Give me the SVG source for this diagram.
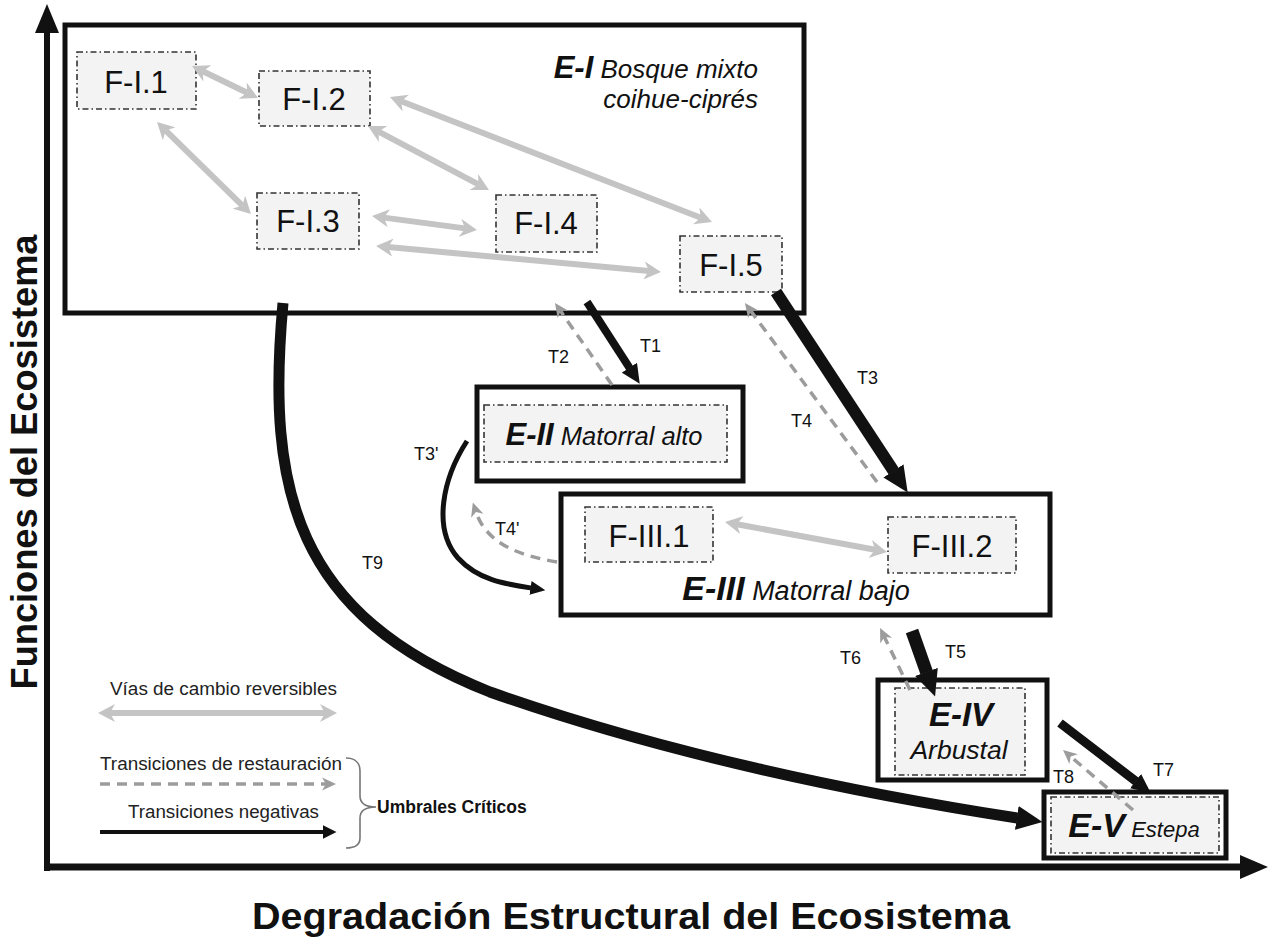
<svg xmlns="http://www.w3.org/2000/svg" width="1272" height="941" viewBox="0 0 1272 941">
<style>
text{font-family:"Liberation Sans",Arial,sans-serif;fill:#111}
.ebox{fill:#fff;stroke:#111;stroke-width:5}
.fbox{fill:#f3f3f3;stroke:#333;stroke-width:1.6;stroke-dasharray:6 3 1.5 3}
.ftxt{font-size:31px;text-anchor:middle}
.eb{font-weight:bold;font-style:italic}
.ei{font-style:italic}
.rev{stroke:#c4c4c4;stroke-width:6;fill:none;marker-start:url(#hg);marker-end:url(#hg)}
.rest{stroke:#9c9c9c;stroke-width:3.5;stroke-dasharray:10 7;fill:none;marker-end:url(#dg)}
.neg{stroke:#111;fill:none}
.lbl{font-size:18px}
.leg{font-size:17.5px;fill:#222}
</style>
<defs>
<marker id="hg" viewBox="0 0 17 18" markerWidth="17" markerHeight="18" refX="5" refY="9" orient="auto-start-reverse" markerUnits="userSpaceOnUse"><path d="M0,0 L17,9 L0,18 L5,9 z" fill="#c4c4c4"/></marker>
<marker id="dg" viewBox="0 0 14 14" markerWidth="14" markerHeight="14" refX="4" refY="7" orient="auto" markerUnits="userSpaceOnUse"><path d="M0,0.5 L14,7 L0,13.5 L4,7 z" fill="#9c9c9c"/></marker>
<marker id="bL" viewBox="0 0 26 24" markerWidth="26" markerHeight="24" refX="0.5" refY="12" orient="auto" markerUnits="userSpaceOnUse"><path d="M0,0 L26,12 L0,24 z" fill="#111"/></marker>
<marker id="bM" viewBox="0 0 19 18" markerWidth="19" markerHeight="18" refX="0.5" refY="9" orient="auto" markerUnits="userSpaceOnUse"><path d="M0,0 L19,9 L0,18 z" fill="#111"/></marker>
<marker id="bS" viewBox="0 0 15 14" markerWidth="15" markerHeight="14" refX="0.5" refY="7" orient="auto" markerUnits="userSpaceOnUse"><path d="M0,0 L15,7 L0,14 z" fill="#111"/></marker>
<marker id="bLeg" viewBox="0 0 14 14" markerWidth="14" markerHeight="14" refX="0.5" refY="7" orient="auto" markerUnits="userSpaceOnUse"><path d="M0,0 L14,7 L0,14 z" fill="#111"/></marker>
</defs>
<rect width="1272" height="941" fill="#fff"/>

<g id="axes">
<line x1="47" y1="871" x2="47" y2="30" stroke="#111" stroke-width="6"/>
<polygon points="35,33 59,33 47,4" fill="#111"/>
<line x1="44" y1="867" x2="1242" y2="867" stroke="#111" stroke-width="7"/>
<polygon points="1240,855 1240,879 1268,867" fill="#111"/>
<text transform="translate(37,462) rotate(-90)" text-anchor="middle" font-size="36" font-weight="bold" textLength="455" lengthAdjust="spacingAndGlyphs">Funciones del Ecosistema</text>
<text x="252" y="929" font-size="36" font-weight="bold" textLength="758" lengthAdjust="spacingAndGlyphs">Degradación Estructural del Ecosistema</text>
</g>

<g id="E-I">
<rect class="ebox" x="65" y="25" width="739" height="288"/>
<text x="758" y="78" font-size="26" text-anchor="end"><tspan class="eb" font-size="31">E-I</tspan><tspan class="ei"> Bosque mixto</tspan></text>
<text x="758" y="108" font-size="26" text-anchor="end" class="ei">coihue-ciprés</text>
</g>
<g id="F-I.1"><rect class="fbox" x="77" y="52" width="119" height="57"/><text class="ftxt" x="136" y="93">F-I.1</text></g>
<g id="F-I.2"><rect class="fbox" x="259" y="71" width="111" height="55"/><text class="ftxt" x="314" y="110">F-I.2</text></g>
<g id="F-I.3"><rect class="fbox" x="257" y="193" width="102" height="56"/><text class="ftxt" x="308" y="232">F-I.3</text></g>
<g id="F-I.4"><rect class="fbox" x="496" y="195" width="101" height="57"/><text class="ftxt" x="546" y="234">F-I.4</text></g>
<g id="F-I.5"><rect class="fbox" x="680" y="236" width="102" height="56"/><text class="ftxt" x="731" y="276">F-I.5</text></g>

<g id="E-II">
<rect class="ebox" x="477" y="387" width="266" height="94"/>
<rect class="fbox" x="484" y="405" width="243" height="57"/>
<text x="604" y="445" font-size="25.5" text-anchor="middle"><tspan class="eb" font-size="31">E-II</tspan><tspan class="ei"> Matorral alto</tspan></text>
</g>

<g id="E-III">
<rect class="ebox" x="561" y="494" width="489" height="121"/>
<text x="796" y="600" font-size="27" text-anchor="middle"><tspan class="eb" font-size="34">E-III</tspan><tspan class="ei"> Matorral bajo</tspan></text>
</g>
<g id="F-III.1"><rect class="fbox" x="585" y="507" width="128" height="55"/><text class="ftxt" x="649" y="547">F-III.1</text></g>
<g id="F-III.2"><rect class="fbox" x="888" y="517" width="128" height="56"/><text class="ftxt" x="952" y="557">F-III.2</text></g>

<g id="E-IV">
<rect class="ebox" x="878" y="680" width="169" height="100"/>
<rect class="fbox" x="895" y="688" width="130" height="87"/>
<text x="961" y="726" font-size="33" text-anchor="middle" class="eb">E-IV</text>
<text x="959" y="759" font-size="26.5" text-anchor="middle" class="ei">Arbustal</text>
</g>

<g id="E-V">
<rect class="ebox" x="1044" y="792" width="182" height="66"/>
<rect class="fbox" x="1051" y="797" width="168" height="56"/>
<text x="1134" y="837" font-size="22" text-anchor="middle"><tspan class="eb" font-size="34">E-V</tspan><tspan class="ei"> Estepa</tspan></text>
</g>

<g id="connectors">
<path class="rev" d="M202.8,71.2 L247.2,92.8"/>
<path class="rev" d="M165.6,130.4 L242.4,205.6"/>
<path class="rev" d="M401.2,101.3 L700.8,217.7"/>
<path class="rev" d="M378.6,131.6 L478.4,184.4"/>
<path class="rev" d="M383.9,217.6 L465.1,228.4"/>
<path class="rev" d="M388,247.1 L649,270.9"/>
<path class="rev" d="M736.8,524.2 L875.2,549.8"/>

<path class="rest" d="M612,385 L560.7,311.2"/>
<path class="rest" d="M877,482 L750.9,311.1"/>
<path class="rest" d="M557,562 C522,556 487,545 476,512"/>
<path class="rest" d="M910,690 L884.4,637"/>
<path class="rest" d="M1133,810 L1070.6,756.5"/>

<path class="neg" stroke-width="8" marker-end="url(#bM)" d="M587,302 L629.7,368.1"/>
<path class="neg" stroke-width="12" marker-end="url(#bL)" d="M776,292 L893.7,471.3"/>
<path class="neg" stroke-width="5" marker-end="url(#bS)" d="M467,441 C443,478 432,528 458,558 C478,580 505,584 531,588"/>
<path class="neg" stroke-width="13" marker-end="url(#bL)" d="M912,631 L926.6,672.4"/>
<path class="neg" stroke-width="9" marker-end="url(#bM)" d="M1060,723 L1136,781.4"/>
<path class="neg" stroke-width="11" marker-end="url(#bL)" d="M283,303 C266,490 295,615 490,692 C660,752 850,792 1017.3,818"/>
</g>

<g id="labels" class="lbl">
<text x="640" y="352">T1</text>
<text x="548" y="363">T2</text>
<text x="857" y="384">T3</text>
<text x="791" y="427">T4</text>
<text x="414" y="460">T3'</text>
<text x="495" y="535">T4'</text>
<text x="362" y="569">T9</text>
<text x="945" y="658">T5</text>
<text x="840" y="664">T6</text>
<text x="1153" y="776">T7</text>
<text x="1053" y="783">T8</text>
</g>

<g id="legend">
<text class="leg" x="110" y="695" textLength="227" lengthAdjust="spacingAndGlyphs">Vías de cambio reversibles</text>
<path class="rev" d="M110,713 L325,713"/>
<text class="leg" x="100" y="770" textLength="242" lengthAdjust="spacingAndGlyphs">Transiciones de restauración</text>
<path class="rest" d="M100,784 L326,784"/>
<text class="leg" x="128" y="818" textLength="191" lengthAdjust="spacingAndGlyphs">Transiciones negativas</text>
<path class="neg" stroke-width="4" marker-end="url(#bLeg)" d="M100,832 L323,832"/>
<path d="M346,758 C355,758 360,763 360,771 L360,796 C360,803 364,807 376,807 C364,807 360,811 360,818 L360,838 C360,845 355,848 346,848" fill="none" stroke="#777" stroke-width="1.6"/>
<text x="377" y="813" font-size="17.5" font-weight="bold">Umbrales Críticos</text>
</g>
</svg>
